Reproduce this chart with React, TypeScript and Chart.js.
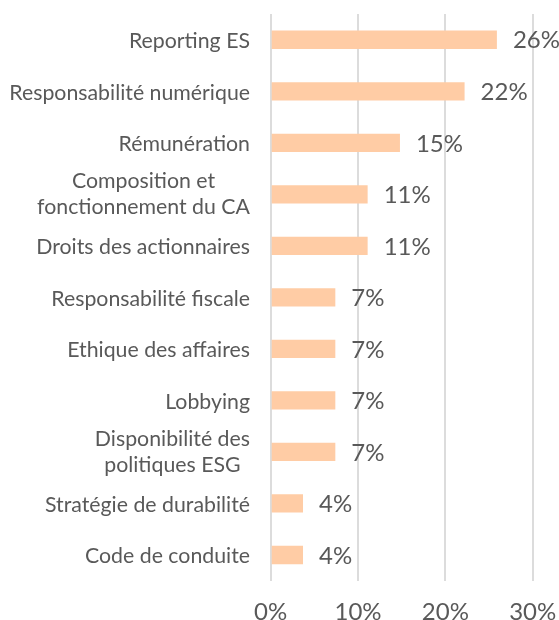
import React, { useEffect, useRef } from "react";
import { Chart, registerables } from "chart.js";

Chart.register(...registerables);

const categories: (string | string[])[] = [
  "Reporting ES",
  "Responsabilité numérique",
  "Rémunération",
  ["Composition et", "fonctionnement du CA"],
  "Droits des actionnaires",
  "Responsabilité fiscale",
  "Ethique des affaires",
  "Lobbying",
  ["Disponibilité des", "politiques ESG"],
  "Stratégie de durabilité",
  "Code de conduite",
];

const values: number[] = [25.9, 22.2, 14.8, 11.1, 11.1, 7.4, 7.4, 7.4, 7.4, 3.7, 3.7];

const xTicks: number[] = [0, 10, 20, 30];

const TEXT = "#595959";
const BAR = "#FFCCA5";
const FONT = "Lato, 'Open Sans', sans-serif";

const labelPlugin = {
  id: "customLabels",
  afterDraw(chart: any) {
    const ctx = chart.ctx as CanvasRenderingContext2D;
    const area = chart.chartArea;
    const yScale = chart.scales.y;
    const meta = chart.getDatasetMeta(0);
    ctx.save();
    const catSize = 21.3;
    const lh = 26.4;
    ctx.font = `${catSize}px ${FONT}`;
    ctx.fillStyle = TEXT;
    ctx.textBaseline = "alphabetic";
    const rightEdge = area.left - 20.7;
    categories.forEach((c, i) => {
      const cy = yScale.getPixelForValue(i);
      const lines = Array.isArray(c) ? c : [c];
      const widths = lines.map((l) => ctx.measureText(l).width);
      const maxW = Math.max(...widths);
      const center = rightEdge - maxW / 2;
      const n = lines.length;
      lines.forEach((l, j) => {
        const base = cy + 8.4 - (n - 1) * 14.8 + j * lh;
        ctx.textAlign = "center";
        ctx.fillText(l, center, base);
      });
    });
    ctx.font = `24px ${FONT}`;
    ctx.textAlign = "left";
    ctx.textBaseline = "middle";
    meta.data.forEach((bar: any, i: number) => {
      ctx.fillText(Math.round(values[i]) + "%", bar.x + 16, bar.y + 1);
    });
    ctx.restore();
  },
};

export default function App() {
  const ref = useRef<HTMLCanvasElement | null>(null);
  useEffect(() => {
    document.body.style.margin = "0";
    if (!ref.current) return;
    const chart = new Chart(ref.current, {
      type: "bar",
      data: {
        labels: categories as any,
        datasets: [
          {
            data: values,
            backgroundColor: BAR,
            borderWidth: 0,
            categoryPercentage: 1,
            barPercentage: 0.355,
          },
        ],
      },
      options: {
        indexAxis: "y",
        animation: false,
        responsive: true,
        maintainAspectRatio: false,
        layout: { padding: { top: 14, right: 26.3, left: 0, bottom: 0 } },
        plugins: {
          legend: { display: false },
          tooltip: { enabled: false },
          title: { display: false },
        },
        scales: {
          x: {
            min: 0,
            max: 30,
            afterBuildTicks: (s: any) => {
              s.ticks = xTicks.map((v) => ({ value: v }));
            },
            afterFit: (s: any) => {
              s.height = 39.25;
              s.paddingLeft = 0;
              s.paddingRight = 0;
            },
            grid: {
              color: "#dcdcdc",
              lineWidth: 2,
              drawTicks: false,
              tickLength: 0,
            },
            border: { display: false },
            ticks: {
              padding: 19.5,
              color: TEXT,
              font: { family: FONT, size: 24, lineHeight: 1 },
              callback: (v: any) => v + "%",
              maxRotation: 0,
            },
          },
          y: {
            grid: { display: false, drawTicks: false },
            border: { display: false },
            ticks: { display: false },
            afterFit: (s: any) => {
              s.width = 270.7;
              s.paddingTop = 0;
              s.paddingBottom = 0;
            },
          },
        },
      },
      plugins: [labelPlugin],
    });
    return () => chart.destroy();
  }, []);
  return (
    <div style={{ width: 559, height: 620, position: "relative" }}>
      <canvas ref={ref} />
    </div>
  );
}
